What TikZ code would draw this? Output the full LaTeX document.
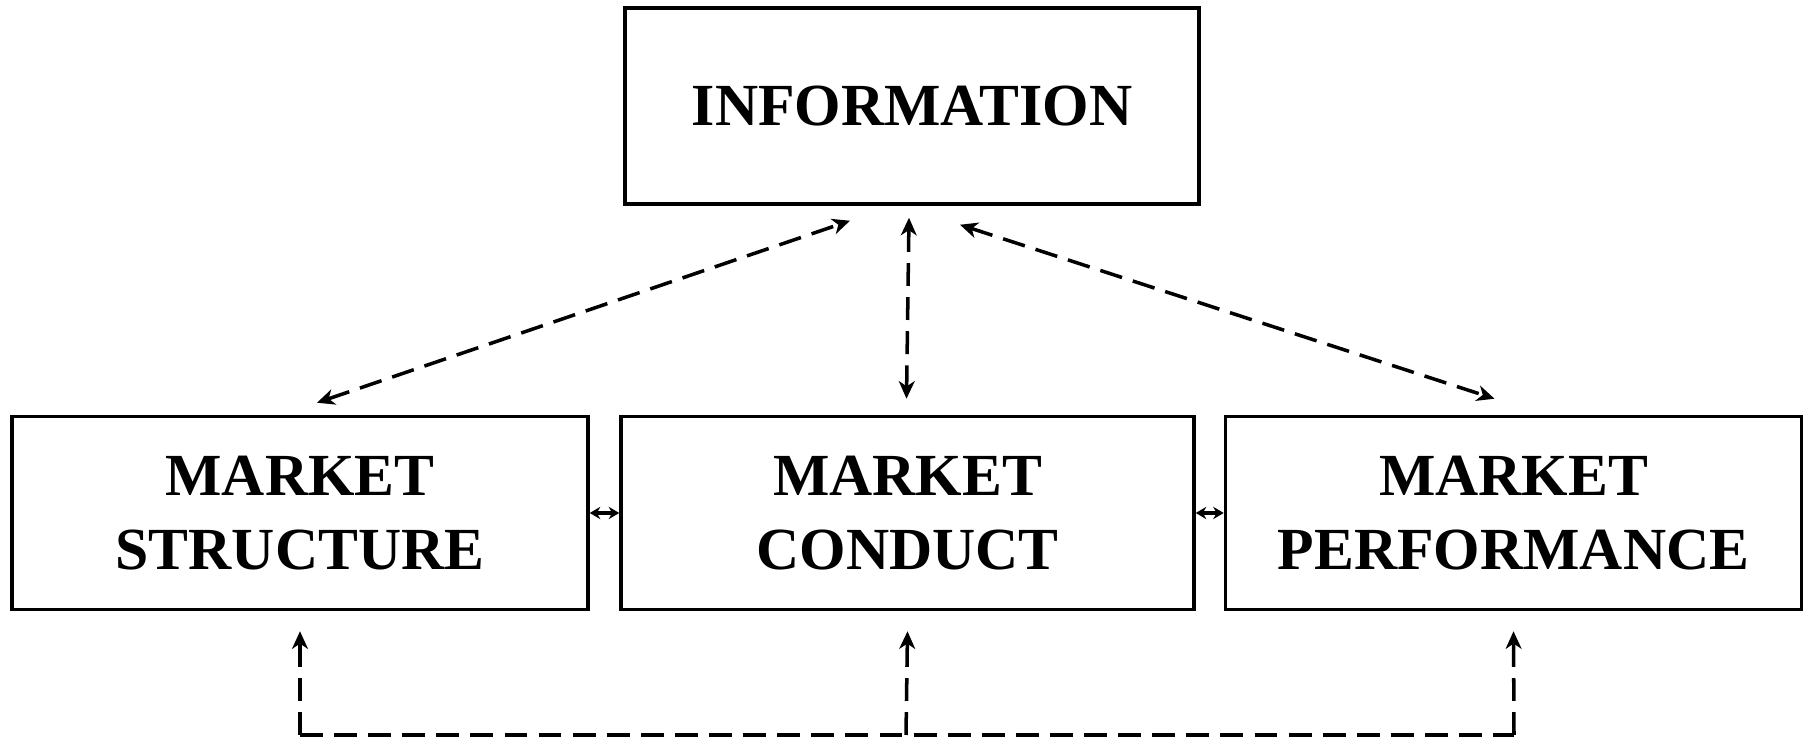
\documentclass[tikz,border=0pt]{standalone}
\usepackage{fontspec}
\setmainfont{Liberation Serif}
\usetikzlibrary{arrows.meta}
\begin{document}
\begin{tikzpicture}[>={Stealth[length=5pt,width=4.5pt,inset=1.5pt]},
    box/.style={draw, line width=1pt, minimum width=5.76cm, minimum height=1.93cm, align=center, font=\bfseries\fontsize{17}{21}\selectfont},
    link/.style={<->, line width=1pt, dash pattern=on 6.5pt off 3.2pt}]
        \useasboundingbox (0,0) rectangle (18.09,7.39);
        \node[box, minimum width=5.74cm, minimum height=1.96cm] (info) at (9.12,6.33) {INFORMATION};
        \node[box] (str) at (3.00,2.26) {MARKET\\STRUCTURE};
        \node[box, minimum width=5.73cm] (con) at (9.075,2.26) {MARKET\\CONDUCT};
        \node[box] (perf) at (15.135,2.26) {MARKET\\PERFORMANCE};
        \draw[link] ([shift={(0.17,0.12)}]str.north) -- ([shift={(-0.62,-0.15)}]info.south);
        \draw[link] ([shift={(-0.03,-0.12)}]info.south) -- ([shift={(-0.01,0.16)}]con.north);
        \draw[link] ([shift={(0.48,-0.19)}]info.south) -- ([shift={(-0.19,0.16)}]perf.north);
        \draw[{Stealth[length=3pt,width=3.5pt]}-{Stealth[length=3pt,width=3.5pt]}, line width=1pt] (str.east) -- (con.west);
        \draw[{Stealth[length=3pt,width=3.5pt]}-{Stealth[length=3pt,width=3.5pt]}, line width=1pt] (con.east) -- (perf.west);
        \coordinate (b1) at (3.00,0.04); \coordinate (b2) at (9.06,0.04); \coordinate (b3) at (15.14,0.04);
        \draw[link, -] (b1) -- (b3);
        \draw[link, ->] (b1) -- ([yshift=-0.2cm]str.south);
        \draw[link, ->] (b2) -- ([yshift=-0.2cm]con.south);
        \draw[link, ->] (b3) -- ([yshift=-0.2cm]perf.south);
    \end{tikzpicture}
\end{document}
